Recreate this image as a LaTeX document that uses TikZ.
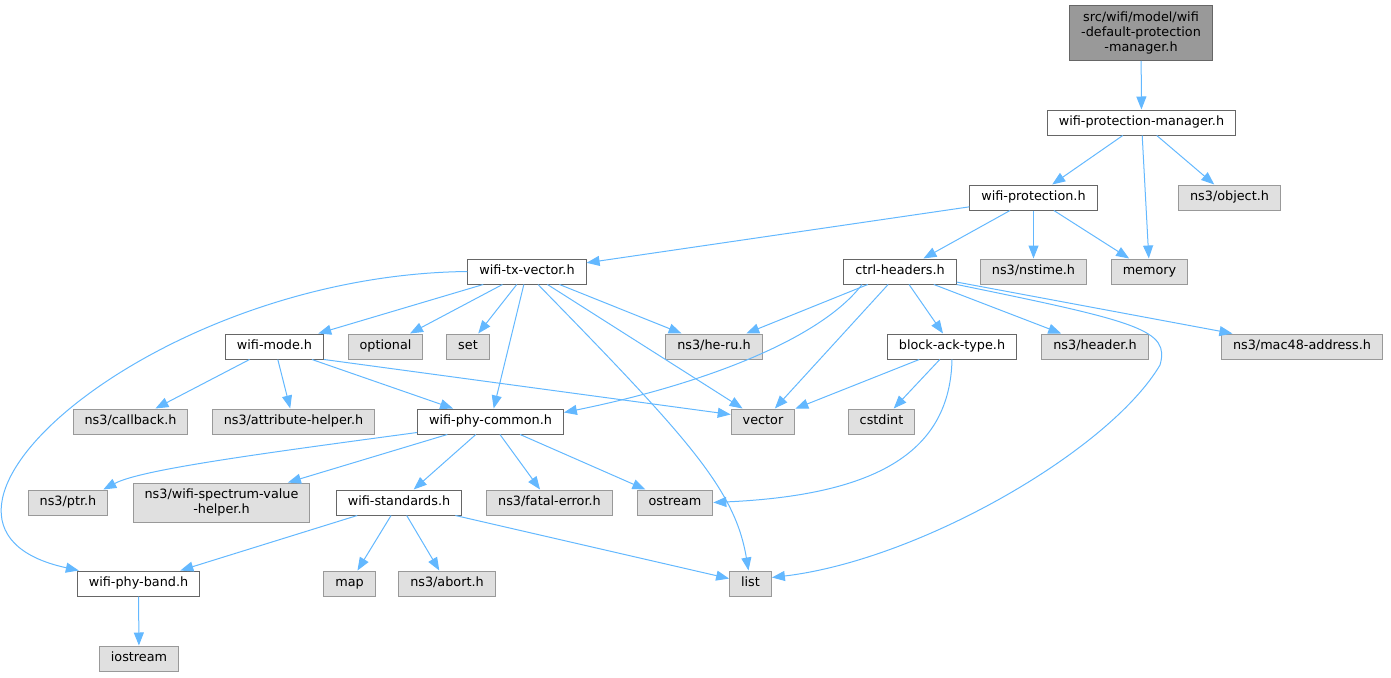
\documentclass[tikz,border=0pt]{standalone}
\usepackage{fontspec}
\setmainfont{DejaVu Sans}
\usetikzlibrary{arrows.meta}

\begin{document}
\begin{tikzpicture}[x=1pt, y=-1pt]

    % style
    \definecolor{edgeblue}{HTML}{63B8FF}
    \definecolor{boxgray}{HTML}{E0E0E0}
    \definecolor{rootgray}{HTML}{999999}
    \definecolor{linegray}{HTML}{666666}
    \tikzset{font=\fontsize{12.8}{14.7}\selectfont,
        filebox/.style={rectangle, draw=linegray, fill=white, line width=1pt, inner xsep=11.5pt, inner ysep=3pt, minimum height=25pt, align=center},
        hdr/.style={filebox, text height=9.6pt, text depth=3pt},
        sys/.style={hdr, draw=rootgray, fill=boxgray},
        rootfile/.style={filebox, fill=rootgray, minimum height=55pt},
        inc/.style={draw=edgeblue, line width=1pt, -{Triangle[length=13pt,width=10pt]}}}

    % page size
    \useasboundingbox (0,0) rectangle (1391,677);

    % top of the graph
    \node [rootfile] (root) at (1141,33) {src/wifi/model/wifi\\-default-protection\\-manager.h};
    \node [hdr] (wpm) at (1141.5,122.5) {wifi-protection-manager.h};
    \node [hdr] (wprot) at (1033.5,197.5) {wifi-protection.h};
    \node [sys] (object) at (1229.5,197.5) {ns3/object.h};

    % row 4
    \node [hdr] (wtx) at (527,271.5) {wifi-tx-vector.h};
    \node [hdr] (ctrl) at (900,271.5) {ctrl-headers.h};
    \node [sys] (nstime) at (1033.5,271.5) {ns3/nstime.h};
    \node [sys] (memory) at (1149.5,271.5) {memory};

    % row 5
    \node [hdr] (wmode) at (274.5,346.5) {wifi-mode.h};
    \node [sys] (optional) at (385.5,346.5) {optional};
    \node [sys] (set) at (468,346.5) {set};
    \node [sys] (heru) at (714,346.5) {ns3/he-ru.h};
    \node [hdr] (block) at (952,346.5) {block-ack-type.h};
    \node [sys] (header) at (1095,346.5) {ns3/header.h};
    \node [sys] (mac48) at (1302,346.5) {ns3/mac48-address.h};

    % row 6
    \node [sys] (callback) at (130.5,421.5) {ns3/callback.h};
    \node [sys] (attr) at (293.5,421.5) {ns3/attribute-helper.h};
    \node [hdr] (wpc) at (490.5,421.5) {wifi-phy-common.h};
    \node [sys] (vector) at (763,421.5) {vector};
    \node [sys] (cstdint) at (881.5,421.5) {cstdint};

    % row 7
    \node [sys] (ptr) at (68,502.5) {ns3/ptr.h};
    \node [filebox, draw=rootgray, fill=boxgray, minimum height=39pt] (spectrum) at (221.5,502.5) {ns3/wifi-spectrum-value\\-helper.h};
    \node [hdr] (standards) at (399,502.5) {wifi-standards.h};
    \node [sys] (fatal) at (549.5,502.5) {ns3/fatal-error.h};
    \node [sys] (ostream) at (675,502.5) {ostream};

    % row 8 and 9
    \node [hdr] (band) at (138.5,583.5) {wifi-phy-band.h};
    \node [sys] (map) at (349.5,583.5) {map};
    \node [sys] (abort) at (447,583.5) {ns3/abort.h};
    \node [sys] (list) at (750.5,583.5) {list};
    \node [sys] (iostream) at (139,658.5) {iostream};

    % includes of the top files
    \draw [inc] (root) -- (wpm);
    \draw [inc] (wpm) -- (wprot);
    \draw [inc] (wpm) -- (memory);
    \draw [inc] (wpm) -- (object);
    \draw [inc] (wprot) -- (wtx);
    \draw [inc] (wprot) -- (ctrl);
    \draw [inc] (wprot) -- (nstime);
    \draw [inc] (wprot) -- (memory);

    % wifi-tx-vector.h
    \draw [inc] (wtx) -- (wmode);
    \draw [inc] (wtx) -- (optional);
    \draw [inc] (wtx) -- (set);
    \draw [inc] (wtx) -- (wpc);
    \draw [inc] (wtx) -- (heru);
    \draw [inc] (wtx) -- (vector);
    \draw [inc] ([xshift=11pt]wtx.south) .. controls (690,440) and (735,490) .. ([xshift=-2pt]list.north);
    \draw [inc] (wtx.west) .. controls (150,275) and (-130,525) .. (band);

    % ctrl-headers.h
    \draw [inc] (ctrl) -- (heru);
    \draw [inc] ([xshift=-38pt]ctrl.south) .. controls (820,340) and (700,385) .. ([yshift=9pt]wpc.east);
    \draw [inc] (ctrl) -- (vector);
    \draw [inc] (ctrl) -- (block);
    \draw [inc] (ctrl) -- (header);
    \draw [inc] (ctrl) -- (mac48);
    \draw [inc] (ctrl.south east) .. controls (1140,322) and (1170,330) .. (1160,365) .. controls (1110,450) and (920,560) .. ([yshift=6pt]list.east);

    % wifi-mode.h and block-ack-type.h
    \draw [inc] (wmode) -- (callback);
    \draw [inc] (wmode) -- (attr);
    \draw [inc] (wmode) -- (wpc);
    \draw [inc] (wmode.south east) -- ([yshift=7pt]vector.west);
    \draw [inc] (block) -- (vector);
    \draw [inc] (block) -- (cstdint);
    \draw [inc] (block.south) .. controls (950,450) and (880,495) .. (ostream.east);

    % wifi-phy-common.h
    \draw [inc] ([yshift=2pt]wpc.south west) .. controls (250,455) and (140,470) .. ([xshift=-5pt]ptr.north east);
    \draw [inc] (wpc) -- (spectrum);
    \draw [inc] (wpc) -- (standards);
    \draw [inc] (wpc) -- (fatal);
    \draw [inc] (wpc) -- (ostream);

    % wifi-standards.h and wifi-phy-band.h
    \draw [inc] (standards) -- (band);
    \draw [inc] (standards) -- (map);
    \draw [inc] (standards) -- (abort);
    \draw [inc] (standards) -- (list);
    \draw [inc] (band) -- (iostream);

\end{tikzpicture}
\end{document}
